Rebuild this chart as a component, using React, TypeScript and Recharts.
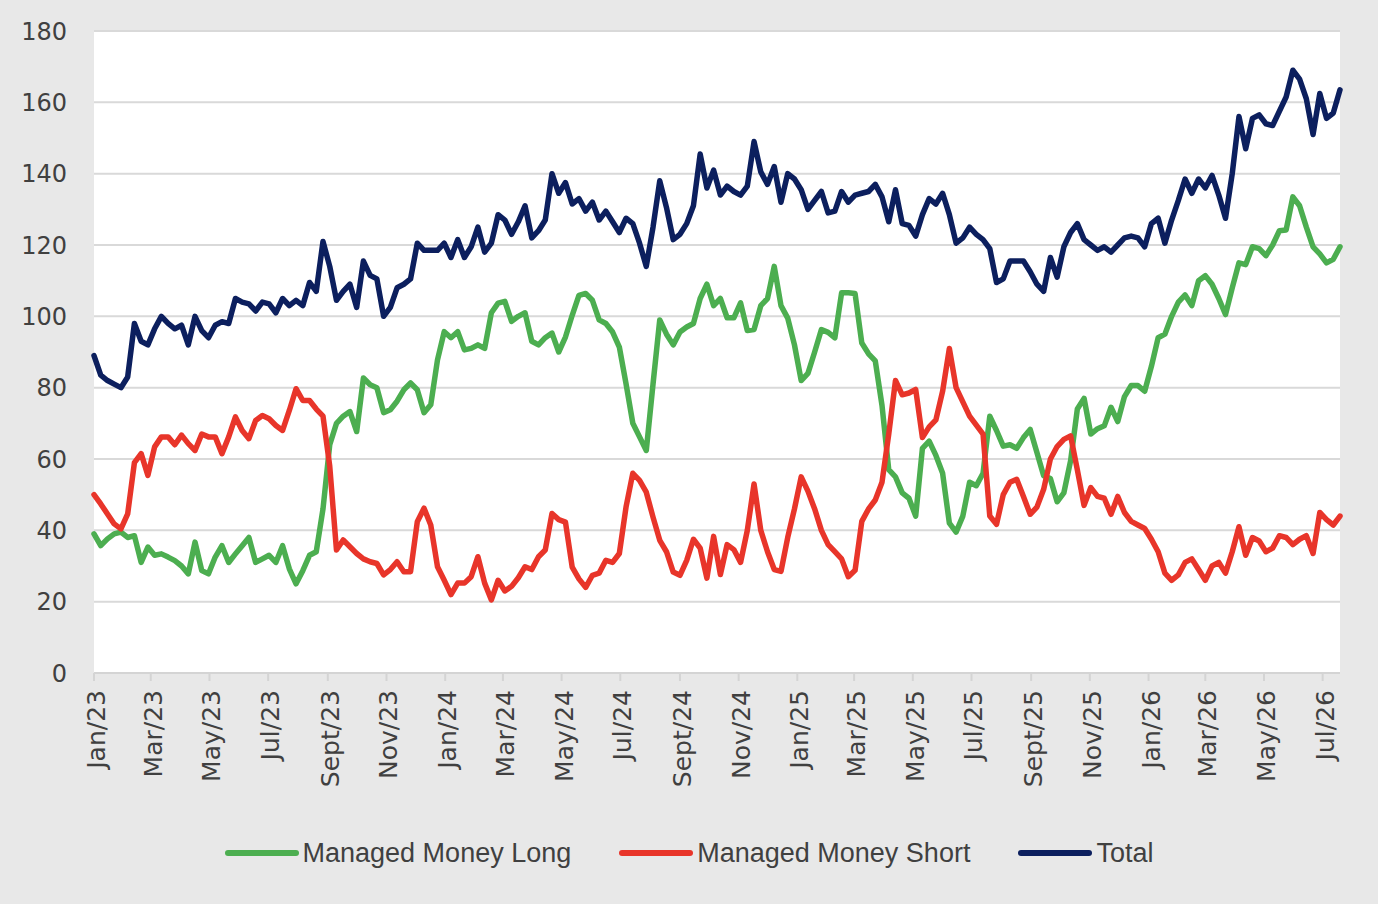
import React from 'react';
import { LineChart, Line, XAxis, YAxis, CartesianGrid, Legend } from 'recharts';

// weekly readings, first week = 1 Jan 2023
const firstWeek = '2023-01-01';

const managedMoneyLong = [
  39, 35.7, 37.6, 39, 39.5, 38, 38.5, 31, 35.3, 33, 33.4, 32.5, 31.5, 30, 27.8, 36.7, 28.7, 27.8, 32.5, 35.7,
  31, 33.4, 35.7, 38, 31, 32, 33, 31, 35.7, 29.2, 25, 28.7, 33, 34, 46, 64, 70, 72, 73.3, 67.7,
  82.7, 80.8, 80, 73, 73.8, 76.2, 79.4, 81.3, 79.4, 73, 75.2, 87.8, 95.7, 94, 95.7, 90.6, 91, 92, 91, 101,
  103.7, 104.2, 98.6, 100, 101, 93, 92, 94, 95.3, 90, 94.2, 100.3, 105.9, 106.4, 104.5, 99, 98, 95.6, 91.4, 81,
  70, 66.2, 62.4, 81, 99, 95, 92, 95.6, 97, 98, 105, 109, 103, 105, 99.6, 99.6, 103.8, 96, 96.3, 103,
  105, 114, 103, 99.5, 92, 82, 84, 90, 96.3, 95.5, 94, 106.6, 106.6, 106.4, 92.5, 89.5, 87.5, 75, 57, 55,
  50.5, 49, 44, 63, 65, 61, 56, 42, 39.5, 44, 53.5, 52.5, 56, 72, 68, 63.6, 64, 63, 66, 68.3,
  61.8, 55.3, 54.5, 48, 50.5, 59.5, 74, 77, 67, 68.5, 69.3, 74.5, 70.5, 77.5, 80.6, 80.6, 79, 86, 94, 95,
  100, 104, 106, 103, 110, 111.4, 109, 105, 100.5, 108, 115, 114.5, 119.5, 119, 117, 120, 124, 124.2, 133.5, 131,
  125, 119.5, 117.5, 115, 116, 119.5,
];

const managedMoneyShort = [
  50, 47.4, 44.6, 41.8, 40.4, 44.6, 59, 61.5, 55.4, 63.4, 66.2, 66.2, 64, 66.7, 64.3, 62.4, 67, 66.2, 66.2, 61.5,
  66.2, 71.8, 68, 65.7, 70.8, 72.2, 71.3, 69.4, 68, 73.6, 79.7, 76.4, 76.4, 74, 72, 58, 34.5, 37.3, 35.4, 33.5,
  32, 31.2, 30.7, 27.5, 29, 31.2, 28.4, 28.4, 42.4, 46.2, 41.5, 29.8, 26, 22, 25.2, 25.2, 27, 32.6, 25.2, 20.5,
  26, 23, 24.3, 26.7, 29.8, 29, 32.6, 34.5, 44.7, 43, 42.3, 29.7, 26.4, 24, 27.4, 28, 31.6, 31, 33.5, 46.6,
  56, 54, 50.7, 43.7, 37.2, 34, 28.3, 27.4, 31.6, 37.5, 35, 26.6, 38.3, 27.6, 36, 34.6, 31, 40, 53, 40,
  34, 29, 28.5, 38, 46, 55, 51, 46, 40, 36, 34, 32, 27, 28.8, 42.5, 46, 48.5, 53.5, 67, 82,
  78, 78.5, 79.5, 66, 69, 71, 79, 91, 80, 76, 72, 69.5, 67, 44, 41.7, 50, 53.5, 54.3, 49.5, 44.5,
  46.5, 51.5, 60, 63.5, 65.5, 66.5, 57, 47, 52, 49.5, 49, 44.5, 49.5, 45, 42.5, 41.5, 40.5, 37.5, 34, 28,
  26, 27.5, 31, 32, 29, 26, 30, 31, 28, 34, 41, 33, 38, 37, 34, 35, 38.5, 38, 36, 37.5,
  38.5, 33.5, 45, 43, 41.5, 44,
];

const totalPositions = [
  89, 83.5, 82, 81, 80, 83, 98, 93, 92, 96.5, 100, 98, 96.5, 97.5, 92, 100, 96, 94, 97.5, 98.5,
  98, 105, 104, 103.5, 101.5, 104, 103.5, 101, 105, 103, 104.5, 103, 109.5, 107, 121, 114, 104.5, 107, 109, 102.5,
  115.5, 111.5, 110.5, 100, 102.5, 108, 109, 110.5, 120.5, 118.5, 118.5, 118.5, 120.5, 116.5, 121.5, 116.5, 119.5, 125, 118, 120.5,
  128.5, 127, 123, 126.5, 131, 122, 124, 127, 140, 134.5, 137.5, 131.5, 133, 129.5, 132, 127, 129.5, 126.5, 123.5, 127.5,
  126, 120.5, 114, 125, 138, 130.5, 121.5, 123, 126, 131, 145.5, 136, 141, 134, 136.5, 135, 134, 136.5, 149, 140.5,
  137, 142, 132, 140, 138.5, 135.5, 130, 132.5, 135, 129, 129.5, 135, 132, 134, 134.5, 135, 137, 133.5, 126.5, 135.5,
  126, 125.5, 122.5, 128.5, 133, 131.5, 134.5, 128.5, 120.5, 122, 125, 123, 121.5, 119, 109.5, 110.5, 115.5, 115.5, 115.5, 112.5,
  109, 107, 116.5, 111, 119.5, 123.5, 126, 121.5, 120, 118.5, 119.5, 118, 120, 122, 122.5, 122, 119.5, 126, 127.5, 120.5,
  127, 132.5, 138.5, 134.5, 138.5, 136, 139.5, 134, 127.5, 140, 156, 147, 155.5, 156.5, 154, 153.5, 157.5, 161.5, 169, 166.5,
  161, 151, 162.5, 155.5, 157, 163.5,
];

const tickLabels = [
  'Jan/23', 'Mar/23', 'May/23', 'Jul/23', 'Sept/23', 'Nov/23',
  'Jan/24', 'Mar/24', 'May/24', 'Jul/24', 'Sept/24', 'Nov/24',
  'Jan/25', 'Mar/25', 'May/25', 'Jul/25', 'Sept/25', 'Nov/25',
  'Jan/26', 'Mar/26', 'May/26', 'Jul/26',
];
const tickDates = [
  '2023-01-01', '2023-03-01', '2023-05-01', '2023-07-01', '2023-09-01', '2023-11-01',
  '2024-01-01', '2024-03-01', '2024-05-01', '2024-07-01', '2024-09-01', '2024-11-01',
  '2025-01-01', '2025-03-01', '2025-05-01', '2025-07-01', '2025-09-01', '2025-11-01',
  '2026-01-01', '2026-03-01', '2026-05-01', '2026-07-01',
];
const yTicks = [0, 20, 40, 60, 80, 100, 120, 140, 160, 180];

const DAY = 86400000;
const daysFromStart = (d: string) => Math.round((Date.parse(d) - Date.parse(firstWeek)) / DAY);

const chartData = totalPositions.map((t, i) => ({
  day: i * 7,
  long: managedMoneyLong[i],
  short: managedMoneyShort[i],
  total: t,
}));
const xTicks = tickDates.map(daysFromStart);

const series = [
  { key: 'long', name: 'Managed Money Long', color: '#4cae50' },
  { key: 'short', name: 'Managed Money Short', color: '#e8352a' },
  { key: 'total', name: 'Total', color: '#0c1f5e' },
];

const MonthTick = (props: any) => {
  const { x, y, payload } = props;
  const label = tickLabels[xTicks.indexOf(payload.value)];
  return (
    <text
      x={x + 2}
      y={y}
      transform={`rotate(-90, ${x + 2}, ${y})`}
      textAnchor="end"
      dy="0.36em"
      fill="#404040"
      fontSize={25}
      fontFamily="DejaVu Sans"
    >
      {label}
    </text>
  );
};

const LegendRow = () => (
  <div style={{ display: 'flex', justifyContent: 'center', alignItems: 'center', height: 80, gap: 48 }}>
    {series.map((s) => (
      <div key={s.key} style={{ display: 'flex', alignItems: 'center' }}>
        <span style={{ display: 'inline-block', width: 74, height: 6, borderRadius: 3, background: s.color, marginRight: 4 }} />
        <span style={{ fontFamily: 'Liberation Sans', fontSize: 27, color: '#404040', lineHeight: '30px' }}>{s.name}</span>
      </div>
    ))}
  </div>
);

export default function App() {
  return (
    <div style={{ position: 'absolute', left: 0, top: 0, width: 1378, height: 904, background: '#e8e8e8' }}>
      <LineChart width={1378} height={904} data={chartData} margin={{ top: 31, right: 38, left: 20, bottom: 11 }}>
        <CartesianGrid vertical={false} stroke="#d9d9d9" strokeWidth={2} fill="#ffffff" />
        <XAxis
          dataKey="day"
          type="number"
          domain={[0, (totalPositions.length - 1) * 7]}
          ticks={xTicks}
          interval={0}
          height={140}
          stroke="#d4d4d4"
          strokeWidth={2}
          tickSize={8}
          tickMargin={9}
          tick={MonthTick}
        />
        <YAxis
          domain={[0, 180]}
          ticks={yTicks}
          width={74}
          axisLine={false}
          tickLine={false}
          tickSize={6}
          tickMargin={21}
          tick={{ fill: '#404040', fontSize: 24, fontFamily: 'DejaVu Sans' }}
        />
        <Legend verticalAlign="bottom" height={80} wrapperStyle={{ left: 0, width: 1378 }} content={LegendRow} />
        {series.map((s) => (
          <Line
            key={s.key}
            type="linear"
            dataKey={s.key}
            name={s.name}
            stroke={s.color}
            strokeWidth={5.5}
            strokeLinejoin="round"
            strokeLinecap="round"
            dot={false}
            activeDot={false}
            isAnimationActive={false}
          />
        ))}
      </LineChart>
    </div>
  );
}
